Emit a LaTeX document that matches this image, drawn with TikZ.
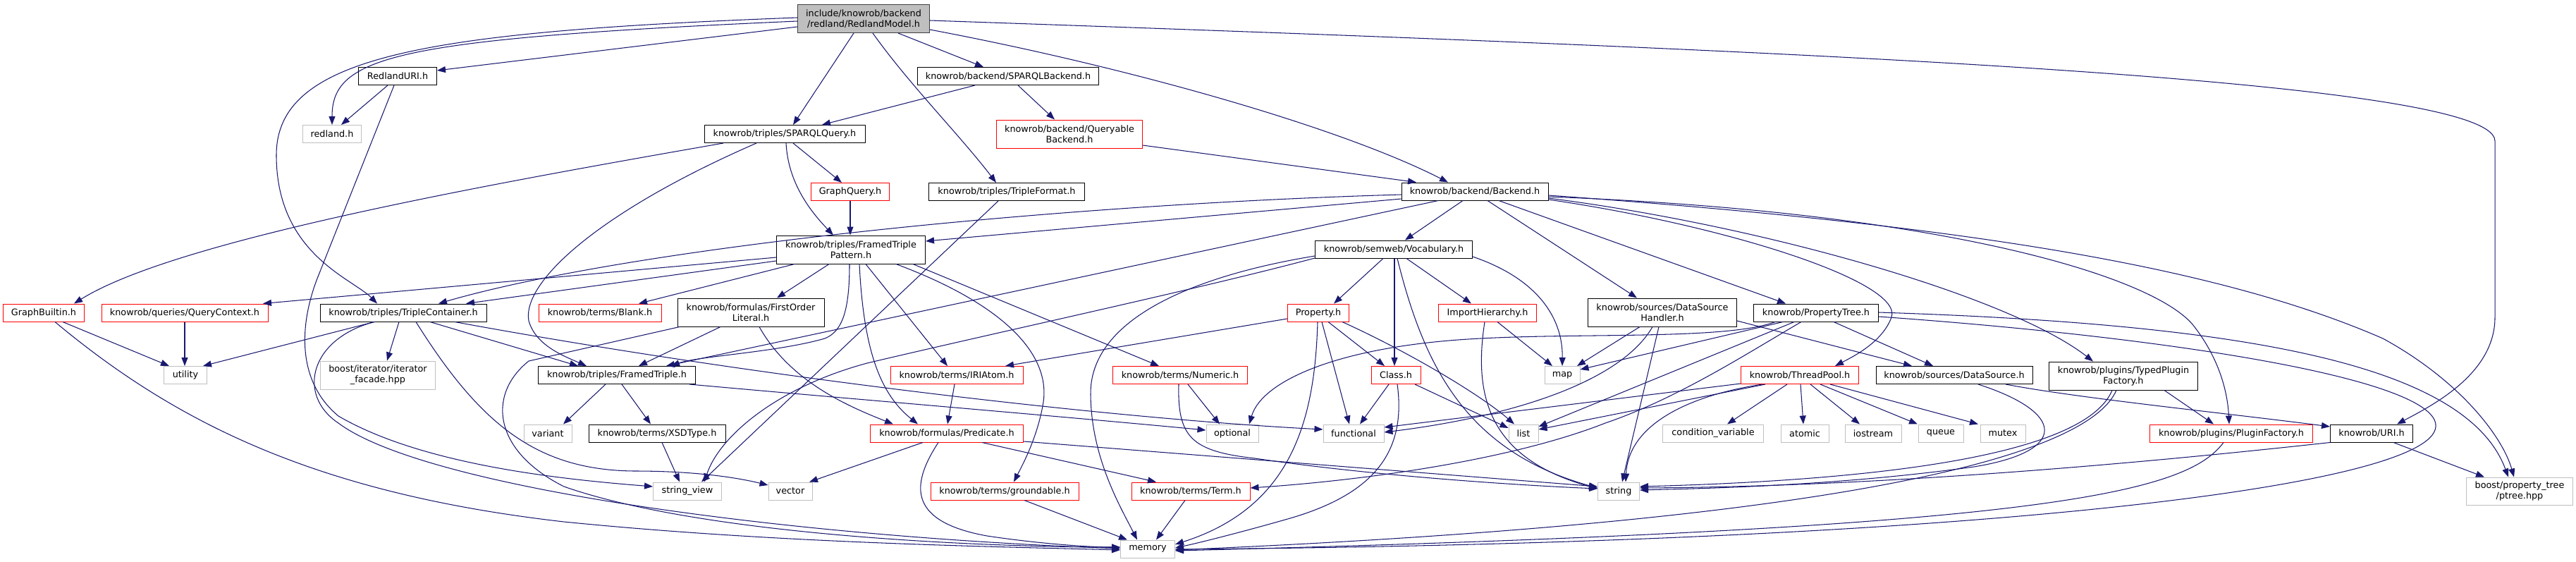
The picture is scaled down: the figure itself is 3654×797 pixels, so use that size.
\documentclass[tikz,border=0pt]{standalone}
\usepackage{fontspec}
\setmainfont{DejaVu Sans}
\usepackage{xcolor}
\usepackage{tikz}
\usetikzlibrary{arrows.meta}
\definecolor{incl}{HTML}{191970}
\definecolor{sysgrey}{HTML}{BFBFBF}
\definecolor{cutred}{HTML}{FF0000}
\definecolor{focusline}{HTML}{404040}

\begin{document}
\begin{tikzpicture}[x=1pt,y=1pt,font=\fontsize{12.8}{15}\selectfont,
  hdr/.style={draw=black,line width=1pt,inner sep=0pt,minimum height=25pt,align=center},
  sys/.style={hdr,draw=sysgrey},
  cut/.style={hdr,draw=cutred},
  two/.style={minimum height=40pt},
  dep/.style={draw=incl,line width=1.05pt,-{Triangle[length=12pt,width=9pt]}}]
\useasboundingbox (0,0) rectangle (3654,-797);

\node[hdr,two,minimum width=187pt,fill=sysgrey,draw=focusline] (root) at (1225,-26.5) {include/knowrob/backend\\/redland/RedlandModel.h};
\node[hdr,minimum width=111pt] (redlanduri) at (564,-108) {RedlandURI.h};
\node[hdr,minimum width=257pt] (sparqlbe) at (1430,-108) {knowrob/backend/SPARQLBackend.h};
\node[sys,minimum width=83pt] (redland) at (471,-190) {redland.h};
\node[hdr,minimum width=228pt] (sparqlq) at (1113,-190) {knowrob/triples/SPARQLQuery.h};
\node[cut,two,minimum width=207pt] (queryable) at (1517,-190) {knowrob/backend/Queryable\\Backend.h};
\node[cut,minimum width=111pt] (graphq) at (1206,-272) {GraphQuery.h};
\node[hdr,minimum width=221pt] (tripleformat) at (1428,-272) {knowrob/triples/TripleFormat.h};
\node[hdr,minimum width=208pt] (backend) at (2092,-271.5) {knowrob/backend/Backend.h};
\node[hdr,two,minimum width=211pt] (ftpattern) at (1207,-354) {knowrob/triples/FramedTriple\\Pattern.h};
\node[hdr,minimum width=223pt] (vocab) at (1977,-353.5) {knowrob/semweb/Vocabulary.h};

\node[cut,minimum width=115pt] (gbuiltin) at (62,-443.5) {GraphBuiltin.h};
\node[cut,minimum width=236pt] (qcontext) at (262,-443.5) {knowrob/queries/QueryContext.h};
\node[hdr,minimum width=236pt] (tcontainer) at (572,-443.5) {knowrob/triples/TripleContainer.h};
\node[cut,minimum width=174pt] (blank) at (851,-443.5) {knowrob/terms/Blank.h};
\node[hdr,two,minimum width=208pt] (fol) at (1065,-443) {knowrob/formulas/FirstOrder\\Literal.h};
\node[cut,minimum width=87pt] (property) at (1870,-443.5) {Property.h};
\node[cut,minimum width=139pt] (importh) at (2110,-443.5) {ImportHierarchy.h};
\node[hdr,two,minimum width=211pt] (dshandler) at (2358,-443) {knowrob/sources/DataSource\\Handler.h};
\node[hdr,minimum width=177pt] (ptreeh) at (2576,-443.5) {knowrob/PropertyTree.h};

\node[sys,minimum width=61pt] (utility) at (263,-532) {utility};
\node[sys,two,minimum width=163pt] (iterfacade) at (536,-532) {boost/iterator/iterator\\\_facade.hpp};
\node[hdr,minimum width=223pt] (ftriple) at (875,-532) {knowrob/triples/FramedTriple.h};
\node[cut,minimum width=188pt] (iriatom) at (1357,-532) {knowrob/terms/IRIAtom.h};
\node[cut,minimum width=191pt] (numeric) at (1674,-532) {knowrob/terms/Numeric.h};
\node[cut,minimum width=70pt] (classh) at (1980,-532) {Class.h};
\node[sys,minimum width=50pt] (map) at (2216,-532) {map};
\node[cut,minimum width=167pt] (threadpool) at (2553,-532) {knowrob/ThreadPool.h};
\node[hdr,minimum width=222pt] (datasource) at (2772,-532) {knowrob/sources/DataSource.h};
\node[hdr,two,minimum width=211pt] (typedpf) at (3012,-533) {knowrob/plugins/TypedPlugin\\Factory.h};

\node[sys,minimum width=68pt] (variant) at (777,-614.5) {variant};
\node[hdr,minimum width=194pt] (xsdtype) at (932,-614.5) {knowrob/terms/XSDType.h};
\node[cut,minimum width=217pt] (predicate) at (1343,-614.5) {knowrob/formulas/Predicate.h};
\node[sys,minimum width=74pt] (optional) at (1748,-614.5) {optional};
\node[sys,minimum width=86pt] (functional) at (1920,-614.5) {functional};
\node[sys,minimum width=42pt] (list) at (2161,-614.5) {list};
\node[sys,minimum width=143pt] (condvar) at (2430,-614.5) {condition\_variable};
\node[sys,minimum width=68pt] (atomic) at (2560,-614.5) {atomic};
\node[sys,minimum width=80pt] (iostream) at (2657,-614.5) {iostream};
\node[sys,minimum width=64pt] (queue) at (2753,-614.5) {queue};
\node[sys,minimum width=64pt] (mutex) at (2841,-614.5) {mutex};
\node[cut,minimum width=231pt] (pfactory) at (3165,-614.5) {knowrob/plugins/PluginFactory.h};
\node[hdr,minimum width=117pt] (urih) at (3364,-614.5) {knowrob/URI.h};

\node[sys,minimum width=97pt] (strview) at (975,-696.5) {string\_view};
\node[sys,minimum width=62pt] (vector) at (1121,-696.5) {vector};
\node[cut,minimum width=210pt] (groundable) at (1425,-696.5) {knowrob/terms/groundable.h};
\node[cut,minimum width=168pt] (term) at (1689,-696.5) {knowrob/terms/Term.h};
\node[sys,minimum width=59pt] (string) at (2296,-696.5) {string};
\node[sys,two,minimum height=39pt,minimum width=151pt] (ptree) at (3574,-696.5) {boost/property\_tree\\/ptree.hpp};
\node[sys,minimum width=77pt] (memory) at (1628,-778.5) {memory};

\draw[dep] (root.west |- 0,-38) -- (redlanduri.east |- 0,-100);
\draw[dep] (root.west |- 0,-30) .. controls (560,-55) and (471,-80) .. (redland.north);
\draw[dep] (root.west |- 0,-25) .. controls (600,-45) and (392,-80) .. (392,-220) .. controls (392,-360) and (500,-395) .. (tcontainer.north -| 535,0);
\draw[dep] (root.south -| 1211,0) -- (sparqlq.north -| 1125,0);
\draw[dep] (root.south -| 1274,0) -- (sparqlbe.north -| 1395,0);
\draw[dep] (root.south -| 1238,0) .. controls (1290,-120) and (1360,-190) .. (tripleformat.north -| 1413,0);
\draw[dep] (root.east |- 0,-42) .. controls (1600,-95) and (1900,-180) .. (backend.north -| 2054,0);
\draw[dep] (root.east |- 0,-29) .. controls (2500,-70) and (3539,-110) .. (3539,-200) -- (3539,-450) .. controls (3539,-530) and (3450,-575) .. (urih.north -| 3400,0);

\draw[dep] (sparqlbe.south -| 1444,0) -- (queryable.north -| 1496,0);
\draw[dep] (sparqlbe.south -| 1383,0) -- (sparqlq.north -| 1166,0);
\draw[dep] (queryable.east |- 0,-206) -- (backend.north -| 2009,0);

\draw[dep] (sparqlq.south -| 1125,0) -- (graphq.north -| 1194,0);
\draw[dep] (sparqlq.south -| 1115,0) .. controls (1118,-260) and (1150,-300) .. (ftpattern.north -| 1182,0);
\draw[dep] (sparqlq.south -| 1026,0) .. controls (700,-260) and (250,-340) .. (gbuiltin.north -| 105,0);
\draw[dep] (sparqlq.south -| 1073,0) .. controls (850,-300) and (740,-400) .. (750,-455) .. controls (760,-490) and (800,-505) .. (ftriple.north -| 832,0);
\draw[dep] (graphq.south) -- (ftpattern.north -| 1206,0);
\draw[dep] (tripleformat.south -| 1416,0) -- (strview.north -| 995,0);

\draw[dep] (backend.south -| 2075,0) -- (vocab.north -| 1993,0);
\draw[dep] (backend.west |- 0,-282) -- (ftpattern.east |- 0,-342);
\draw[dep] (backend.west |- 0,-276) .. controls (1500,-290) and (900,-350) .. (tcontainer.north -| 622,0);
\draw[dep] (backend.south -| 2040,0) -- (ftriple.north -| 945,0);
\draw[dep] (backend.south -| 2110,0) -- (dshandler.north -| 2322,0);
\draw[dep] (backend.south -| 2126,0) -- (ptreeh.north -| 2533,0);
\draw[dep] (backend.east |- 0,-283) .. controls (2450,-320) and (2700,-400) .. (2683,-450) .. controls (2670,-485) and (2630,-505) .. (threadpool.north -| 2603,0);
\draw[dep] (backend.east |- 0,-281) .. controls (2500,-320) and (2850,-420) .. (typedpf.north -| 2969,0);
\draw[dep] (backend.east |- 0,-279) .. controls (2750,-300) and (3050,-390) .. (3110,-460) .. controls (3150,-510) and (3160,-560) .. (pfactory.north -| 3162,0);
\draw[dep] (backend.east |- 0,-277) .. controls (2800,-320) and (3150,-380) .. (3380,-480) .. controls (3490,-540) and (3550,-620) .. (ptree.north -| 3566,0);

\draw[dep] (ftpattern.west |- 0,-365) -- (qcontext.north -| 373,0);
\draw[dep] (ftpattern.west |- 0,-370) -- (tcontainer.north -| 661,0);
\draw[dep] (ftpattern.south -| 1127,0) -- (blank.north -| 906,0);
\draw[dep] (ftpattern.south -| 1176,0) -- (fol.north -| 1102,0);
\draw[dep] (ftpattern.south -| 1205,0) .. controls (1205,-440) and (1195,-470) .. (1170,-480) .. controls (1100,-500) and (990,-505) .. (ftriple.north -| 952,0);
\draw[dep] (ftpattern.south -| 1219,0) .. controls (1225,-500) and (1250,-560) .. (predicate.north -| 1302,0);
\draw[dep] (ftpattern.south -| 1228,0) -- (iriatom.north -| 1344,0);
\draw[dep] (ftpattern.south -| 1271,0) .. controls (1420,-430) and (1490,-500) .. (1480,-570) .. controls (1472,-620) and (1450,-660) .. (groundable.north -| 1438,0);
\draw[dep] (ftpattern.south -| 1295,0) -- (numeric.north -| 1644,0);

\draw[dep] (tcontainer.south -| 531,0) -- (utility.north -| 288,0);
\draw[dep] (tcontainer.south -| 566,0) -- (iterfacade.north -| 549,0);
\draw[dep] (tcontainer.south -| 610,0) -- (ftriple.north -| 820,0);
\draw[dep] (tcontainer.south -| 645,0) .. controls (1100,-540) and (1600,-595) .. (functional.west |- 0,-609);
\draw[dep] (tcontainer.south -| 590,0) .. controls (680,-600) and (760,-667) .. (900,-668) .. controls (980,-668) and (1040,-676) .. (vector.west |- 0,-688);
\draw[dep] (tcontainer.south -| 531,0) .. controls (440,-480) and (420,-560) .. (480,-600) .. controls (600,-690) and (1100,-760) .. (memory.west |- 0,-778);

\draw[dep] (redlanduri.south -| 550,0) -- (redland.north -| 484,0);
\draw[dep] (redlanduri.south -| 559,0) -- (450,-395) .. controls (425,-460) and (420,-540) .. (480,-590) .. controls (600,-660) and (800,-680) .. (strview.west |- 0,-690);
\draw[dep] (gbuiltin.south -| 89,0) -- (utility.north -| 240,0);
\draw[dep] (gbuiltin.south -| 78,0) .. controls (250,-600) and (450,-700) .. (800,-740) .. controls (1100,-770) and (1400,-775) .. (memory.west |- 0,-780);
\draw[dep] (qcontext.south -| 262,0) -- (utility.north -| 262,0);

\draw[dep] (fol.south -| 1022,0) -- (ftriple.north -| 906,0);
\draw[dep] (fol.south -| 1077,0) .. controls (1120,-540) and (1200,-575) .. (predicate.north -| 1267,0);
\draw[dep] (fol.south -| 964,0) -- (750,-512) .. controls (690,-560) and (700,-640) .. (800,-690) .. controls (1000,-760) and (1400,-776) .. (memory.west |- 0,-776);

\draw[dep] (ftriple.south -| 859,0) -- (variant.north -| 799,0);
\draw[dep] (ftriple.south -| 882,0) -- (xsdtype.north -| 923,0);
\draw[dep] (ftriple.south -| 978,0) .. controls (1200,-565) and (1500,-590) .. (optional.west |- 0,-610);
\draw[dep] (xsdtype.south -| 939,0) -- (strview.north -| 964,0);
\draw[dep] (iriatom.south -| 1354,0) -- (predicate.north -| 1344,0);
\draw[dep] (numeric.south -| 1685,0) -- (optional.north -| 1730,0);
\draw[dep] (numeric.south -| 1672,0) .. controls (1670,-620) and (1690,-640) .. (1780,-650) .. controls (1950,-675) and (2150,-688) .. (string.west |- 0,-693);

\draw[dep] (predicate.south -| 1309,0) -- (vector.north -| 1148,0);
\draw[dep] (predicate.south -| 1331,0) .. controls (1290,-690) and (1290,-740) .. (1400,-760) .. controls (1480,-772) and (1550,-776) .. (memory.west |- 0,-776);
\draw[dep] (predicate.south -| 1393,0) -- (term.north -| 1640,0);
\draw[dep] (predicate.east |- 0,-626) -- (string.west |- 0,-690);
\draw[dep] (groundable.south -| 1453,0) -- (memory.north -| 1599,0);
\draw[dep] (term.south -| 1681,0) -- (memory.north -| 1640,0);

\draw[dep] (property.west |- 0,-452) -- (iriatom.north -| 1426,0);
\draw[dep] (property.south -| 1884,0) -- (classh.north -| 1964,0);
\draw[dep] (property.south -| 1875,0) -- (functional.north -| 1914,0);
\draw[dep] (property.south -| 1904,0) .. controls (2000,-500) and (2100,-560) .. (list.north -| 2148,0);
\draw[dep] (property.south -| 1869,0) .. controls (1865,-600) and (1830,-720) .. (memory.east |- 0,-772);
\draw[dep] (classh.south -| 1970,0) -- (functional.north -| 1929,0);
\draw[dep] (classh.south -| 2007,0) -- (list.west |- 0,-607);
\draw[dep] (classh.south -| 1982,0) .. controls (1995,-640) and (1950,-700) .. (1830,-735) .. controls (1760,-755) and (1700,-770) .. (memory.east |- 0,-777);
\draw[dep] (importh.south -| 2124,0) -- (map.north -| 2202,0);
\draw[dep] (importh.south -| 2106,0) .. controls (2090,-560) and (2110,-650) .. (string.west |- 0,-693);

\draw[dep] (vocab.south -| 1962,0) -- (property.north -| 1892,0);
\draw[dep] (vocab.south -| 1978,0) -- (classh.north -| 1978,0);
\draw[dep] (vocab.south -| 1982,0) .. controls (2020,-520) and (2080,-640) .. (string.west |- 0,-692);
\draw[dep] (vocab.south -| 1995,0) -- (importh.north -| 2087,0);
\draw[dep] (vocab.east |- 0,-364) .. controls (2180,-395) and (2217,-450) .. (map.north);
\draw[dep] (vocab.west |- 0,-363) .. controls (1700,-390) and (1545,-450) .. (1547,-560) .. controls (1548,-650) and (1590,-720) .. (memory.north -| 1613,0);
\draw[dep] (vocab.west |- 0,-366) .. controls (1700,-410) and (1420,-470) .. (1230,-515) .. controls (1100,-550) and (1020,-620) .. (strview.north -| 999,0);

\draw[dep] (ptreeh.south -| 2601,0) -- (datasource.north -| 2742,0);
\draw[dep] (ptreeh.south -| 2518,0) .. controls (2450,-482) and (2250,-472) .. (2100,-480) .. controls (1900,-490) and (1790,-540) .. (optional.north -| 1772,0);
\draw[dep] (ptreeh.south -| 2529,0) -- (map.east |- 0,-524);
\draw[dep] (ptreeh.south -| 2545,0) -- (list.east |- 0,-605);
\draw[dep] (ptreeh.south -| 2555,0) .. controls (2480,-500) and (2380,-565) .. (2277,-600) .. controls (2150,-650) and (1950,-680) .. (term.east |- 0,-692);
\draw[dep] (ptreeh.east |- 0,-443) .. controls (3200,-460) and (3500,-520) .. (ptree.north -| 3558,0);
\draw[dep] (ptreeh.east |- 0,-449) .. controls (3100,-480) and (3460,-540) .. (3455,-605) .. controls (3450,-690) and (2800,-770) .. (memory.east |- 0,-779);

\draw[dep] (threadpool.south -| 2535,0) -- (condvar.north -| 2450,0);
\draw[dep] (threadpool.south -| 2554,0) -- (atomic.north -| 2558,0);
\draw[dep] (threadpool.south -| 2568,0) -- (iostream.north -| 2638,0);
\draw[dep] (threadpool.south -| 2582,0) -- (queue.north -| 2720,0);
\draw[dep] (threadpool.south -| 2596,0) -- (mutex.north -| 2806,0);
\draw[dep] (threadpool.west |- 0,-544) -- (functional.east |- 0,-606);
\draw[dep] (threadpool.south -| 2504,0) -- (list.east |- 0,-609);
\draw[dep] (threadpool.south -| 2500,0) .. controls (2400,-560) and (2310,-600) .. (string.north -| 2306,0);

\draw[dep] (dshandler.south -| 2326,0) -- (map.north -| 2237,0);
\draw[dep] (dshandler.south -| 2353,0) -- (string.north -| 2301,0);
\draw[dep] (dshandler.south -| 2344,0) .. controls (2300,-540) and (2150,-590) .. (functional.east |- 0,-613);
\draw[dep] (dshandler.east |- 0,-455) -- (datasource.north -| 2712,0);

\draw[dep] (datasource.south -| 2806,0) .. controls (2930,-585) and (2935,-640) .. (2800,-662) .. controls (2600,-690) and (2400,-693) .. (string.east |- 0,-695);
\draw[dep] (datasource.south -| 2845,0) .. controls (2950,-565) and (3150,-585) .. (urih.west |- 0,-605);
\draw[dep] (typedpf.south -| 3070,0) -- (pfactory.north -| 3140,0);
\draw[dep] (typedpf.south -| 2996,0) .. controls (2960,-640) and (2700,-680) .. (string.east |- 0,-690);
\draw[dep] (typedpf.south -| 3002,0) .. controls (2960,-650) and (2600,-740) .. (memory.east |- 0,-780);
\draw[dep] (pfactory.south -| 3154,0) .. controls (3100,-700) and (2900,-750) .. (memory.east |- 0,-781);
\draw[dep] (urih.south west) .. controls (3100,-650) and (2700,-690) .. (string.east |- 0,-692);
\draw[dep] (urih.south -| 3395,0) -- (ptree.north -| 3524,0);
\end{tikzpicture}
\end{document}
